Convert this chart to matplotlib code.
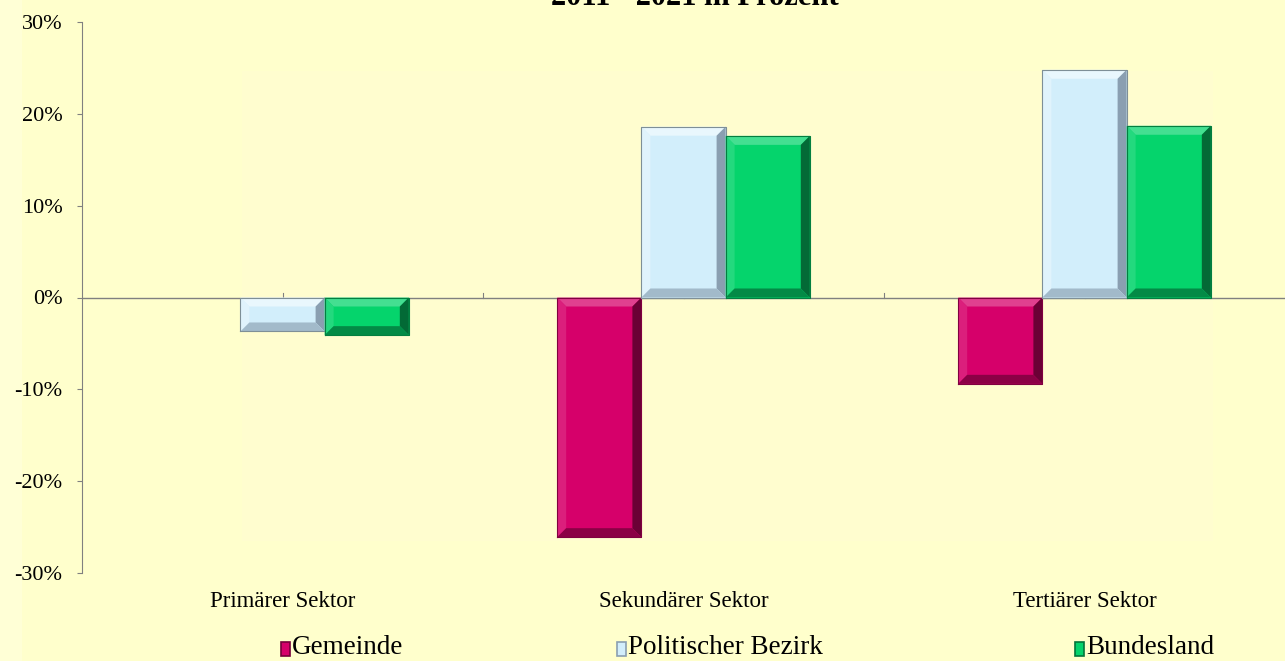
import numpy as np
import matplotlib
matplotlib.use("Agg")
import matplotlib.pyplot as plt
from matplotlib.patches import Polygon, Rectangle
from matplotlib.colors import to_rgb

categories = ["Primärer Sektor", "Sekundärer Sektor", "Tertiärer Sektor"]
series_names = ["Gemeinde", "Politischer Bezirk", "Bundesland"]
gemeinde = [0.0, -26.1, -9.4]
bezirk = [-3.7, 18.6, 24.8]
bundesland = [-4.1, 17.6, 18.7]
yticks = [-30, -20, -10, 0, 10, 20, 30]
title = "2011 - 2021 in Prozent"

colors = ["#D6006A", "#D2EEFB", "#05D46C"]
bg = "#FFFFCC"

plt.rcParams["font.family"] = ["Liberation Serif", "DejaVu Serif"]

W, H = 1285, 661
fig = plt.figure(figsize=(W / 100, H / 100), dpi=100, facecolor=bg)
# slightly lighter strip at the far left, as in the source image
fig.patches.append(Rectangle((0, 0), 22 / W, 1, transform=fig.transFigure,
                             facecolor="#FFFFD6", edgecolor="none", zorder=0))
ax = fig.add_axes([82 / W, 1 - 573 / H, 1 - 82 / W, (573 - 22) / H])
ax.set_facecolor("none")
ax.set_zorder(2)

ax.set_xlim(-0.5, 2.5)
ax.set_ylim(-30, 30)

# px -> data scale for bevel size
px_x = 3.0 / (W - 82)
px_y = 60.0 / (573 - 22)


def mix(c, other, t):
    c = np.array(to_rgb(c))
    o = np.array(to_rgb(other))
    return tuple(c * (1 - t) + o * t)


def bevel_bar(x, w, v, color, light=False):
    if v == 0:
        return
    lo, hi = min(0, v), max(0, v)
    l, r = x - w / 2, x + w / 2
    bx = 9 * px_x
    by = min(9 * px_y, (hi - lo) / 2.2)
    if light:
        shades = [mix(color, "white", 0.5), mix(color, "white", 0.3),
                  mix(color, "#5A6B80", 0.6), mix(color, "#5A6B80", 0.4)]
    else:
        shades = [mix(color, "white", 0.25), mix(color, "white", 0.12),
                  mix(color, "black", 0.5), mix(color, "black", 0.35)]
    ax.add_patch(Rectangle((l, lo), w, hi - lo, facecolor=color, edgecolor="none", zorder=3))
    faces = [
        [(l, hi), (r, hi), (r - bx, hi - by), (l + bx, hi - by)],
        [(l, lo), (l, hi), (l + bx, hi - by), (l + bx, lo + by)],
        [(r, lo), (r, hi), (r - bx, hi - by), (r - bx, lo + by)],
        [(l, lo), (r, lo), (r - bx, lo + by), (l + bx, lo + by)],
    ]
    for pts, fc in zip(faces, shades):
        ax.add_patch(Polygon(pts, closed=True, facecolor=fc, edgecolor="none", zorder=4))
    ax.plot([l, l, r, r, l], [lo, hi, hi, lo, lo], color=mix(color, "black", 0.4), lw=0.8, zorder=5)


bar_w = 0.21
x = np.arange(len(categories))
for i, (vals, col) in enumerate(zip([gemeinde, bezirk, bundesland], colors)):
    for xi, v in zip(x, vals):
        bevel_bar(xi + (i - 1) * bar_w, bar_w, v, col, light=(i == 1))

# faint plot area
ax.add_patch(Rectangle((-0.1, -26.5), 2.42, 51.2, facecolor="#FFFDCF", edgecolor="none", zorder=0))

# zero line and small ticks on it
ax.axhline(0, color="#808080", lw=1, zorder=2)
for t in np.arange(0, 2.01, 0.5):
    ax.plot([t, t], [0, 0.5], color="#808080", lw=0.8, zorder=2)

for s in ["top", "right", "bottom"]:
    ax.spines[s].set_visible(False)
ax.spines["left"].set_color("#808080")
ax.set_xticks([])
ax.set_yticks(yticks)
ax.set_yticklabels([f"{t}%" for t in yticks], fontsize=16)
ax.tick_params(axis="y", colors="#808080", length=3.6, labelcolor="black", pad=10.5)

for xi, c in zip(x, categories):
    ax.text(xi, -0.052, c, transform=ax.get_xaxis_transform(), ha="center", va="center", fontsize=16.5)

fig.text(695 / W, 1 - 5 / H, title, ha="center", va="baseline", fontsize=22, fontweight="bold")

# legend
leg_x = [281, 617, 1075]
for i, (lx, name, col) in enumerate(zip(leg_x, series_names, colors)):
    edge = mix(col, "#5A6B80", 0.6) if i == 1 else mix(col, "black", 0.45)
    fig.patches.append(Rectangle((lx / W, 1 - 656 / H), 9 / W, 14 / H, transform=fig.transFigure,
                                 facecolor=col, edgecolor=edge, lw=1.2))
    fig.text((lx + 11) / W, 1 - 648 / H, name, ha="left", va="center", fontsize=19.5)

fig.savefig("out.png", dpi=100, facecolor=bg)
